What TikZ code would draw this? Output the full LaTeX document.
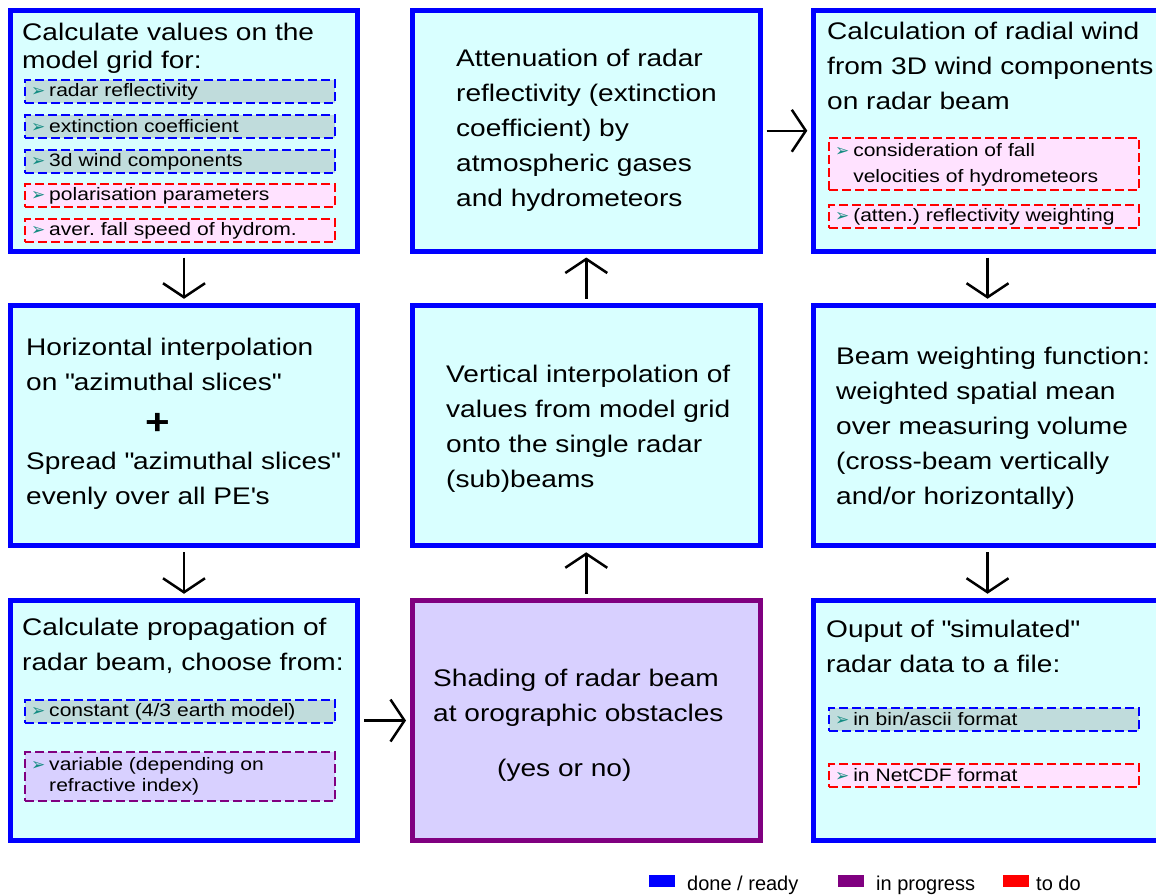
\documentclass[tikz,border=0pt]{standalone}
\usepackage{fontspec}
\setmainfont[FakeStretch=1.17]{Liberation Sans}
\newfontfamily\legfont{Liberation Sans}
\newfontfamily\dejavu{DejaVu Sans}
\usetikzlibrary{arrows.meta}
\definecolor{cyanbg}{RGB}{217,255,255}
\definecolor{lavbg}{RGB}{216,208,255}
\definecolor{itblue}{RGB}{192,220,220}
\definecolor{itred}{RGB}{255,226,255}
\definecolor{bulc}{RGB}{20,140,130}
\definecolor{prog}{RGB}{128,0,128}
\newcommand\bul{{\dejavu\fontsize{17}{17}\selectfont\color{bulc}➢}\hspace{4pt}}
\newcommand\lines[1]{\begin{tabular}[t]{@{}l@{}}#1\end{tabular}}
\newcommand\qq{\textquotedbl}
\frenchspacing
\begin{document}
\begin{tikzpicture}[x=1pt,y=-1pt,
  bigbox/.style={draw=blue, line width=5pt, fill=cyanbg, minimum width=347.5pt, minimum height=240.5pt, inner sep=0pt},
  progbox/.style={bigbox, draw=prog, fill=lavbg},
  maintext/.style={anchor=base west, inner sep=0pt, font=\frenchspacing\fontsize{24}{35}\selectfont},
  item/.style={draw, dash pattern=on 9pt off 4pt, line width=2pt, anchor=north west, minimum height=23pt, text width=298pt, inner xsep=6pt, inner ysep=0pt, align=left, font=\frenchspacing\fontsize{18}{22}\selectfont},
  done/.style={item, draw=blue, fill=itblue},
  todo/.style={item, draw=red, fill=itred},
  inprog/.style={item, draw=prog, fill=lavbg},
  flow/.style={draw=black, line width=2.5pt, shorten <=4pt, shorten >=4pt, -{Straight Barb[length=14pt, width=42pt]}},
  legsw/.style={minimum width=26pt, minimum height=12pt, inner sep=0pt},
  legtext/.style={anchor=base west, inner sep=0pt, font=\legfont\fontsize{20}{24}\selectfont},
]
\useasboundingbox (0,0) rectangle (1156,894);
\begin{scope}
\clip (0,0) rectangle (1156,894);
% main boxes
\node[bigbox] (calc) at (184,130.75) {};
\node[bigbox] (atten) at (586.25,130.75) {};
\node[bigbox] (radial) at (987.5,130.75) {};
\node[bigbox] (horiz) at (184,425.5) {};
\node[bigbox] (vert) at (586.25,425.5) {};
\node[bigbox] (beamw) at (987.5,425.5) {};
\node[bigbox] (prop) at (184,720.5) {};
\node[progbox] (shade) at (586.25,720.5) {};
\node[bigbox] (output) at (987.5,720.5) {};
\end{scope}
% flow arrows
\draw[flow] (calc) -- (horiz);
\draw[flow] (horiz) -- (prop);
\draw[flow] (prop) -- (shade);
\draw[flow] (shade) -- (vert);
\draw[flow] (vert) -- (atten);
\draw[flow] (atten) -- (radial);
\draw[flow] (radial) -- (beamw);
\draw[flow] (beamw) -- (output);
% top-left
\node[maintext, font=\fontsize{24}{28}\selectfont] (tcalc) at (22,40) {\lines{Calculate values on the\\model grid for:}};
\node[done] (i1) at (24,79) {\bul radar reflectivity};
\node[done] (i2) at (24,114) {\bul extinction coefficient};
\node[done] (i3) at (24,149) {\bul 3d wind components};
\node[todo] (i4) at (24,183) {\bul polarisation parameters};
\node[todo] (i5) at (24,218) {\bul aver. fall speed of hydrom.};
% top-middle
\node[maintext] (tatten) at (456,66) {\lines{Attenuation of radar\\reflectivity (extinction\\coefficient) by\\atmospheric gases\\and hydrometeors}};
% top-right
\node[maintext] (tradial) at (827,39.3) {\lines{Calculation of radial wind\\from 3D wind components\\on radar beam}};
\node[todo, minimum height=50pt, font=\frenchspacing\fontsize{18}{26}\selectfont] (i6) at (828,137) {\bul\lines{consideration of fall\\velocities of hydrometeors}};
\node[todo] (i7) at (828,204) {\bul(atten.) reflectivity weighting};
% middle-left
\node[maintext] (thoriz1) at (26,355) {\lines{Horizontal interpolation\\on \qq azimuthal slices\qq}};
\node[inner sep=0pt, font=\bfseries\fontsize{36}{36}\selectfont] (plus) at (158,424) {+};
\node[maintext] (thoriz2) at (26,469) {\lines{Spread \qq azimuthal slices\qq\\evenly over all PE\textquotesingle s}};
% middle-middle
\node[maintext] (tvert) at (446,382) {\lines{Vertical interpolation of\\values from model grid\\onto the single radar\\(sub)beams}};
% middle-right
\node[maintext] (tbeamw) at (836,364) {\lines{Beam weighting function:\\weighted spatial mean\\over measuring volume\\(cross-beam vertically\\and/or horizontally)}};
% bottom-left
\node[maintext] (tprop) at (22,635) {\lines{Calculate propagation of\\radar beam, choose from:}};
\node[done] (i8) at (24,699) {\bul constant (4/3 earth model)};
\node[inprog, minimum height=49pt, font=\frenchspacing\fontsize{18}{21}\selectfont] (i9) at (24,751) {\bul\lines{variable (depending on\\refractive index)}};
% bottom-middle
\node[maintext] (tshade) at (433,686) {\lines{Shading of radar beam\\at orographic obstacles}};
\node[maintext] (tyes) at (497,776) {(yes or no)};
% bottom-right
\node[maintext] (tout) at (826,637.7) {\lines{Ouput of \qq simulated\qq\\radar data to a file:}};
\node[done] (i10) at (828,707) {\bul in bin/ascii format};
\node[todo] (i11) at (828,763) {\bul in NetCDF format};
% legend
\node[legsw, fill=blue] (lg1) at (662,881) {};
\node[legtext] (lt1) at (687,890) {done / ready};
\node[legsw, fill=prog] (lg2) at (851,881) {};
\node[legtext] (lt2) at (876,890) {in progress};
\node[legsw, fill=red] (lg3) at (1015.5,881) {};
\node[legtext] (lt3) at (1036,890) {to do};
\end{tikzpicture}
\end{document}
